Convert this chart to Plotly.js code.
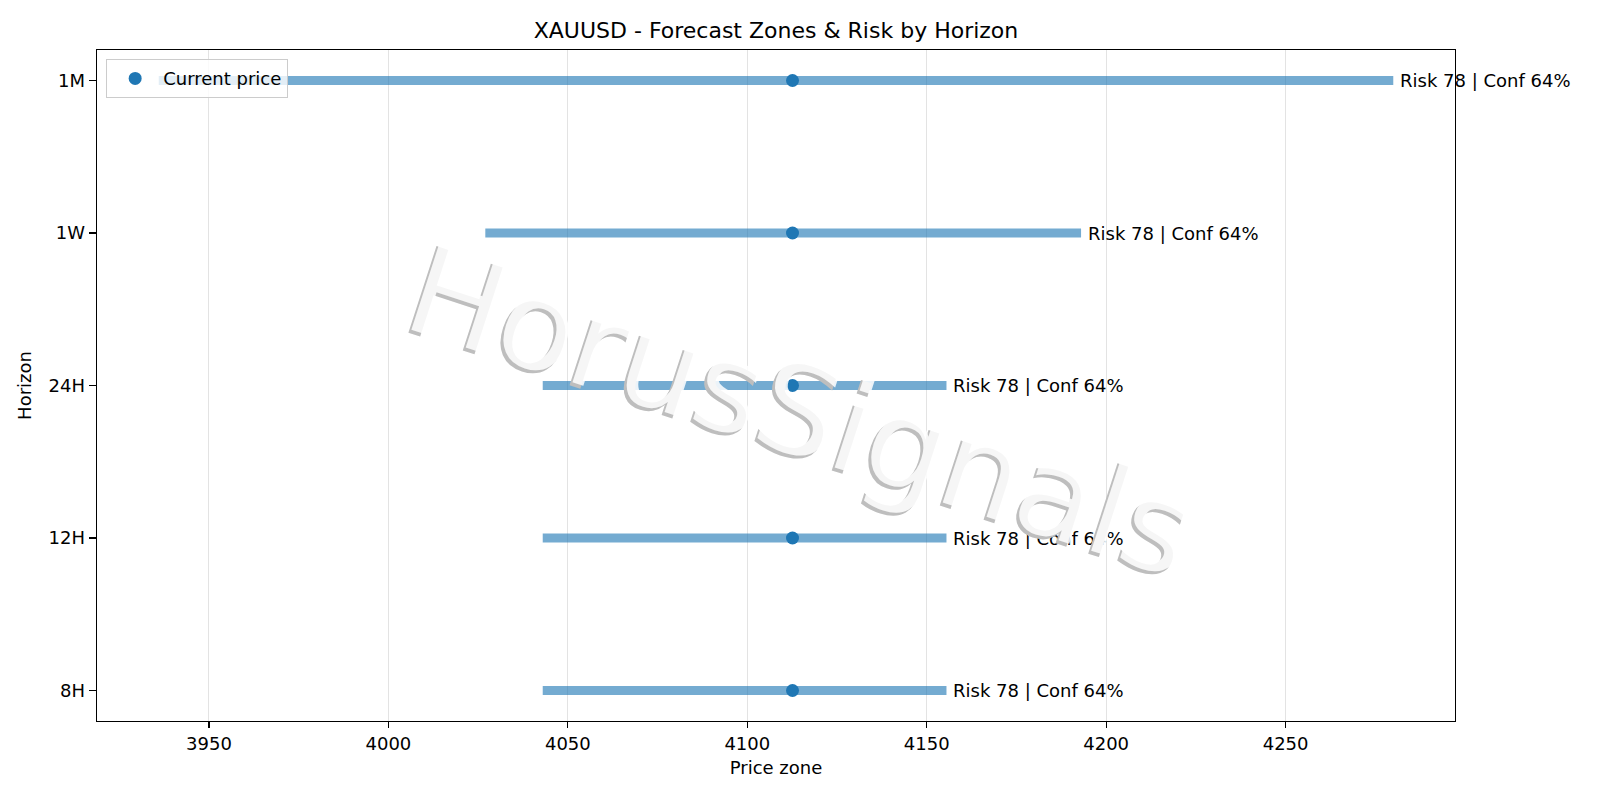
<!DOCTYPE html>
<html>
<head>
<meta charset="utf-8">
<script src="https://cdn.plot.ly/plotly-3.0.1.min.js"></script>
<style>html,body{margin:0;padding:0;background:#fff;}#chart{width:1600px;height:800px;}</style>
</head>
<body>
<div id="chart"></div>
<script>
// ---- data ----
const horizons = ["8H", "12H", "24H", "1W", "1M"];
const zoneLow = [4043, 4043, 4043, 4027, 3936];
const zoneHigh = [4155.5, 4155.5, 4155.5, 4193, 4280];
const currentPrice = [4112.6, 4112.6, 4112.6, 4112.6, 4112.6];
const riskScore = [78, 78, 78, 78, 78];
const confidence = [64, 64, 64, 64, 64];
const chartTitle = "XAUUSD - Forecast Zones & Risk by Horizon";
const watermarkText = "HorusSignals";

const FONT = "DejaVu Sans, Liberation Sans, sans-serif";

// zone bars (one trace with gaps)
const zx = [], zy = [];
horizons.forEach((h, i) => { zx.push(zoneLow[i], zoneHigh[i], null); zy.push(h, h, null); });

const traces = [
  {
    type: "scatter", mode: "lines", x: zx, y: zy,
    line: {color: "rgba(31,119,180,0.62)", width: 9},
    connectgaps: false, showlegend: false, hoverinfo: "skip"
  },
  {
    type: "scatter", mode: "markers", x: currentPrice, y: horizons,
    name: "Current price",
    marker: {color: "#1f77b4", size: 13}
  }
];

const annotations = horizons.map((h, i) => ({
  x: zoneHigh[i], y: h, xref: "x", yref: "y",
  text: "Risk " + riskScore[i] + " | Conf " + confidence[i] + "%",
  showarrow: false, xanchor: "left", yanchor: "middle", xshift: 5,
  font: {family: FONT, size: 18, color: "#000"}
}));

// watermark: shadow then white face
const wmX = 0.518, wmY = 0.462, wmAngle = 18, wmSize = 125;
annotations.push({
  x: wmX, y: wmY, xref: "paper", yref: "paper", text: watermarkText,
  showarrow: false, xanchor: "center", yanchor: "middle", textangle: wmAngle,
  xshift: -3, yshift: -3,
  font: {family: FONT, size: wmSize, color: "rgb(190,190,190)"}
});
annotations.push({
  x: wmX, y: wmY, xref: "paper", yref: "paper", text: watermarkText,
  showarrow: false, xanchor: "center", yanchor: "middle", textangle: wmAngle,
  font: {family: FONT, size: wmSize, color: "rgba(255,255,255,0.86)"}
});

const layout = {
  width: 1600, height: 800,
  paper_bgcolor: "#fff", plot_bgcolor: "#fff",
  margin: {l: 97, r: 145, t: 50, b: 78.5, pad: 0},
  font: {family: FONT, size: 18, color: "#000"},
  title: {text: chartTitle, x: 0.485, xanchor: "center", y: 0.962, yanchor: "middle",
          font: {family: FONT, size: 22, color: "#000"}},
  xaxis: {
    range: [3918.8, 4297.2], tickvals: [3950, 4000, 4050, 4100, 4150, 4200, 4250],
    showgrid: true, gridcolor: "rgba(176,176,176,0.35)", gridwidth: 1,
    zeroline: false, showline: true, linecolor: "#000", linewidth: 1.4, mirror: true,
    ticks: "outside", ticklen: 6, tickcolor: "#000", tickwidth: 1.2,
    tickfont: {family: FONT, size: 18, color: "#000"},
    title: {text: "Price zone", standoff: 8, font: {family: FONT, size: 18, color: "#000"}},
    automargin: false, fixedrange: true
  },
  yaxis: {
    type: "category", categoryorder: "array", categoryarray: horizons,
    range: [-0.2, 4.2], showgrid: false, zeroline: false,
    showline: true, linecolor: "#000", linewidth: 1.4, mirror: true,
    ticks: "outside", ticklen: 7, tickcolor: "#000", tickwidth: 1.2,
    tickfont: {family: FONT, size: 18, color: "#000"},
    title: {text: "Horizon", standoff: 12, font: {family: FONT, size: 18, color: "#000"}},
    automargin: false, fixedrange: true
  },
  legend: {
    x: 0.0066, y: 0.9866, xanchor: "left", yanchor: "top",
    bgcolor: "rgba(255,255,255,0.8)", bordercolor: "#cccccc", borderwidth: 1.2,
    font: {family: FONT, size: 18, color: "#000"}, itemwidth: 46
  },
  showlegend: true,
  annotations: annotations
};

Plotly.newPlot("chart", traces, layout, {displayModeBar: false, staticPlot: true});
</script>
</body>
</html>
